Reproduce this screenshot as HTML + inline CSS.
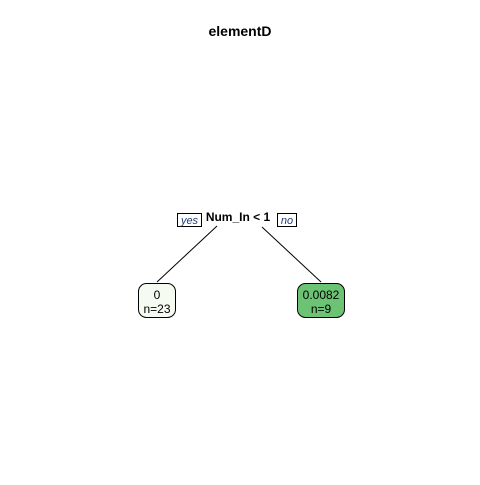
<!DOCTYPE html>
<html><head><style>
body{margin:0;background:#fff;}
</style></head><body>
<svg width="480" height="480" xmlns="http://www.w3.org/2000/svg" font-family="Liberation Sans, sans-serif">
<rect width="480" height="480" fill="#fff"/>
<text x="240" y="36" text-anchor="middle" font-weight="bold" font-size="14">elementD</text>
<line x1="217" y1="226" x2="157" y2="282" stroke="#000" stroke-width="1"/>
<line x1="262" y1="227" x2="321" y2="282" stroke="#000" stroke-width="1"/>
<rect x="177.5" y="213.5" width="24" height="13" fill="#fff" stroke="#000"/>
<text x="189.5" y="224" text-anchor="middle" font-style="italic" font-size="11" fill="#1f3d7a">yes</text>
<text x="238" y="221" text-anchor="middle" font-weight="bold" font-size="12">Num_In &lt; 1</text>
<rect x="277.5" y="213.5" width="19" height="13" fill="#fff" stroke="#000"/>
<text x="287" y="224" text-anchor="middle" font-style="italic" font-size="11" fill="#1f3d7a">no</text>
<rect x="138.5" y="283.5" width="37" height="34" rx="8" fill="#f6fbf2" stroke="#000"/>
<text x="157" y="299" text-anchor="middle" font-size="12">0</text>
<text x="157" y="313" text-anchor="middle" font-size="12">n=23</text>
<rect x="297.5" y="283.5" width="47" height="34" rx="8" fill="#6cc373" stroke="#000"/>
<text x="321" y="299" text-anchor="middle" font-size="12">0.0082</text>
<text x="321" y="313" text-anchor="middle" font-size="12">n=9</text>
</svg>
</body></html>
